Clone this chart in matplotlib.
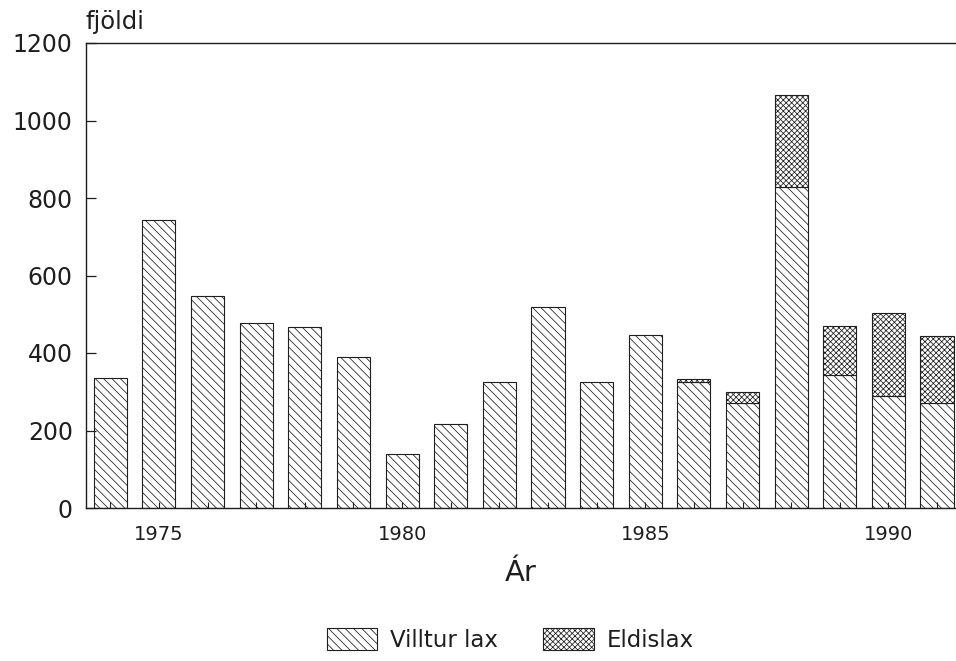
import matplotlib
matplotlib.use("Agg")
import matplotlib.pyplot as plt
from matplotlib.patches import Patch

years = [1974, 1975, 1976, 1977, 1978, 1979, 1980, 1981, 1982, 1983,
         1984, 1985, 1986, 1987, 1988, 1989, 1990, 1991]
villtur = [335, 742, 547, 477, 466, 389, 140, 217, 326, 520,
           326, 446, 325, 271, 828, 343, 290, 272]
eldis = [0, 0, 0, 0, 0, 0, 0, 0, 0, 0,
         0, 0, 8, 28, 237, 126, 212, 172]
yticks = [0, 200, 400, 600, 800, 1000, 1200]
xlabels_years = [1975, 1980, 1985, 1990]
series_names = ['Villtur lax', 'Eldislax']

plt.rcParams['font.family'] = ['DejaVu Sans']
plt.rcParams['hatch.linewidth'] = 0.55
plt.rcParams['hatch.color'] = '#333333'

ink = '#1e1e1e'
fig = plt.figure(figsize=(9.56, 6.61), dpi=100)
ax = fig.add_axes([86/956, 1-508/661, 1-86/956, (508-43)/661])

w = 0.68
hatch1 = '\\\\\\\\'
hatch2 = 'xxxxxx'
b1 = ax.bar(years, villtur, width=w, facecolor='white', edgecolor=ink,
            linewidth=0.8, hatch=hatch1)
b2 = ax.bar(years, eldis, width=w, bottom=villtur, facecolor='white',
            edgecolor=ink, linewidth=0.8, hatch=hatch2)
for rect, v in zip(b2, eldis):
    if v == 0:
        rect.set_visible(False)

ax.set_xlim(1973.5, 1991.39)
ax.set_ylim(0, 1200)
ax.set_yticks(yticks)
ax.set_yticklabels([str(t) for t in yticks])
ax.set_xticks(years)
ax.set_xticklabels([str(y) if y in xlabels_years else '' for y in years])

ax.spines['right'].set_visible(False)
for s in ['left', 'bottom', 'top']:
    ax.spines[s].set_color(ink)
    ax.spines[s].set_linewidth(1.0)

ax.tick_params(axis='y', direction='in', length=7, width=0.9, pad=9.5,
               labelsize=17, colors=ink)
ax.tick_params(axis='x', direction='in', length=4, width=0.8, pad=12,
               labelsize=14, colors=ink)

ax.set_xlabel('Ár', fontsize=21, color=ink, labelpad=11)

fig.text(85/956, 1-29/661, 'fjöldi', fontsize=17.5, color=ink,
         ha='left', va='baseline')

handles = [Patch(facecolor='white', edgecolor=ink, linewidth=0.8, hatch=hatch1),
           Patch(facecolor='white', edgecolor=ink, linewidth=0.8, hatch=hatch2)]
fig.legend(handles=handles, labels=series_names,
           loc='center', bbox_to_anchor=(510/956, 1-640/661), ncol=2,
           frameon=False, fontsize=16.5, handlelength=2.2, handleheight=1.1,
           handletextpad=0.55, columnspacing=2.0, labelcolor=ink)

fig.savefig('out.png', dpi=100)
